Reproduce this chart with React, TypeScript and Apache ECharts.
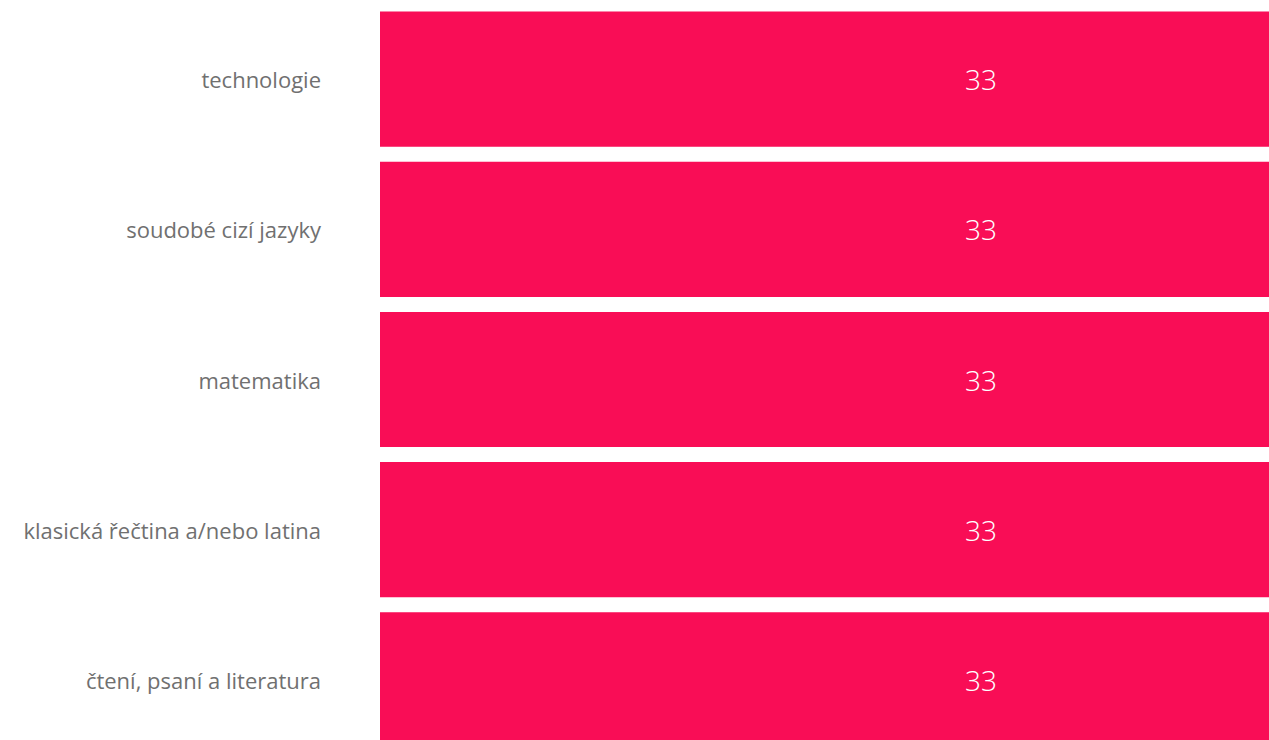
import React, { useEffect, useRef } from "react";
import * as echarts from "echarts";

const categories = [
  "technologie",
  "soudobé cizí jazyky",
  "matematika",
  "klasická řečtina a/nebo latina",
  "čtení, psaní a literatura",
];
const values = [33, 33, 33, 33, 33];

export default function App() {
  const ref = useRef<HTMLDivElement>(null);
  useEffect(() => {
    if (!ref.current) return;
    document.body.style.overflow = "hidden";
    const chart = echarts.init(ref.current, undefined, { renderer: "svg" });
    chart.setOption({
      animation: false,
      grid: { left: 380, top: 4, width: 1202, height: 751, containLabel: false },
      xAxis: {
        type: "value",
        min: 0,
        max: 33,
        show: false,
      },
      yAxis: {
        type: "category",
        inverse: true,
        data: categories,
        axisLine: { show: false },
        axisTick: { show: false },
        splitLine: { show: false },
        axisLabel: {
          margin: 59,
          color: "#707070",
          fontSize: 22,
          fontFamily: "'Open Sans', 'Noto Sans', sans-serif",
          fontWeight: 400,
        },
      },
      series: [
        {
          type: "bar",
          data: values,
          barCategoryGap: "10%",
          itemStyle: { color: "#f90d56" },
          label: {
            show: true,
            position: "inside",
            color: "#ffffff",
            fontSize: 28,
            fontFamily: "'Open Sans', 'Noto Sans', sans-serif",
            fontWeight: 300,
          },
        },
      ],
    });
    return () => chart.dispose();
  }, []);
  return (
    <div
      ref={ref}
      style={{ position: "absolute", left: 0, top: 0, width: 1600, height: 770 }}
    />
  );
}
